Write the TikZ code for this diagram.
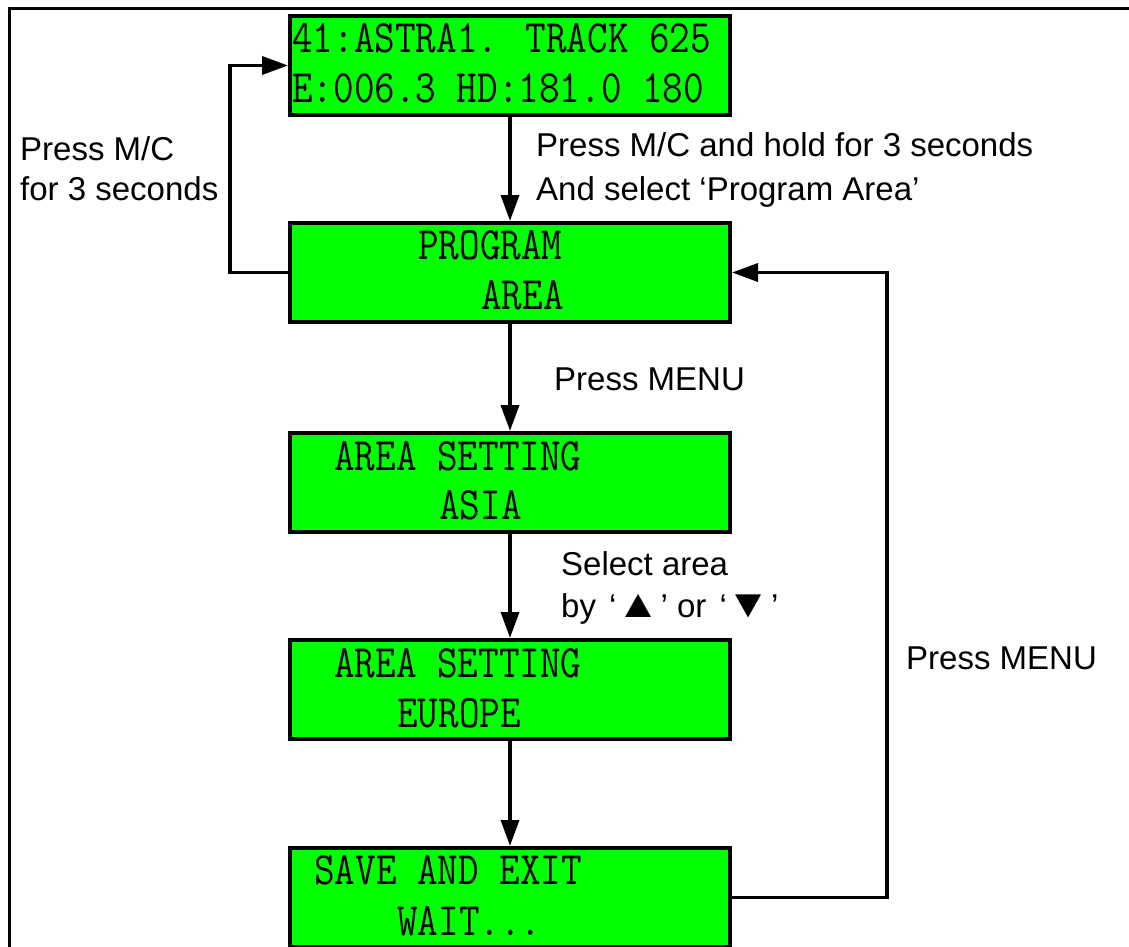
\documentclass[tikz,border=0pt]{standalone}
\usepackage{graphicx}
\usepackage{fontspec}
\setmainfont{Liberation Sans}
\usetikzlibrary{arrows.meta}
\definecolor{lcdgreen}{RGB}{0,255,0}
\newcommand\lcdfont{\fontsize{40}{40}\selectfont\ttfamily\addfontfeatures{FakeBold=1.2}}
\newcommand\lblfont{\fontsize{33}{40}\selectfont}
\newcommand\lcdline[1]{\scalebox{1}[1.16]{#1}}
\newcommand\tri[1]{\scalebox{1.35}[1.2]{#1}}
\begin{document}
\begin{tikzpicture}[x=1pt,y=-1pt,
  lcd/.style={draw=black, line width=4pt, fill=lcdgreen, minimum width=440pt,
    minimum height=99pt, inner sep=0pt, anchor=north west},
  lcdtext/.style={inner sep=0pt, anchor=base west, font=\lcdfont},
  lbl/.style={inner sep=0pt, anchor=base west, font=\lblfont},
  conn/.style={line width=3.5pt, -{Triangle[length=26pt,width=18pt]}}
]
\useasboundingbox (0,0) rectangle (1129,947);
\clip (0,0) rectangle (1129,947);
\draw[line width=3pt] (9,9) rectangle (1150,970);

% boxes
\node[lcd] (top) at (288,14) {};
\node[lcd] (prog) at (288,221) {};
\node[lcd] (asia) at (288,431) {};
\node[lcd] (euro) at (288,638) {};
\node[lcd] (save) at (288,846) {};

% LCD texts
\node[lcdtext] (t1) at (292,53) {\lcdline{41:ASTRA1. TRACK 625}};
\node[lcdtext] (t2) at (292,103) {\lcdline{E:006.3 HD:181.0 180}};
\node[lcdtext] (p1) at (418,259) {\lcdline{PROGRAM}};
\node[lcdtext] (p2) at (481,309) {\lcdline{AREA}};
\node[lcdtext] (a1) at (334,470) {\lcdline{AREA SETTING}};
\node[lcdtext] (a2) at (439,519) {\lcdline{ASIA}};
\node[lcdtext] (e1) at (334,677) {\lcdline{AREA SETTING}};
\node[lcdtext] (e2) at (397,727) {\lcdline{EUROPE}};
\node[lcdtext] (s1) at (314,884) {\lcdline{SAVE AND EXIT}};
\node[lcdtext] (s2) at (397,935) {\lcdline{WAIT...}};

% labels
\node[lbl] (l1a) at (20,160) {Press M/C};
\node[lbl] (l1b) at (20,200) {for 3 seconds};
\node[lbl] (l2a) at (536,157) {Press M/C and hold for 3 seconds};
\node[lbl] (l2b) at (536,200) {And select ‘Program Area’};
\node[lbl] (l3) at (554,390) {Press MENU};
\node[lbl] (l4a) at (561,575) {Select area};
\node[lbl] (l4b) at (561,617) {by\hspace{4pt} ‘\tri{▲}’ or\hspace{4pt} ‘\tri{▼}’};
\node[lbl] (l5) at (906,669) {Press MENU};

% connectors
\coordinate (lc) at (230,0);
\coordinate (rc) at (887,0);
\draw[conn] (top.south) -- (prog.north);
\draw[conn] (prog.south) -- (asia.north);
\draw[conn] (asia.south) -- (euro.north);
\draw[conn] (euro.south) -- (save.north);
\draw[conn] (prog.west) -| (lc |- top.west) -- (top.west);
\draw[conn] (save.east) -| (rc |- prog.east) -- (prog.east);
\end{tikzpicture}
\end{document}
